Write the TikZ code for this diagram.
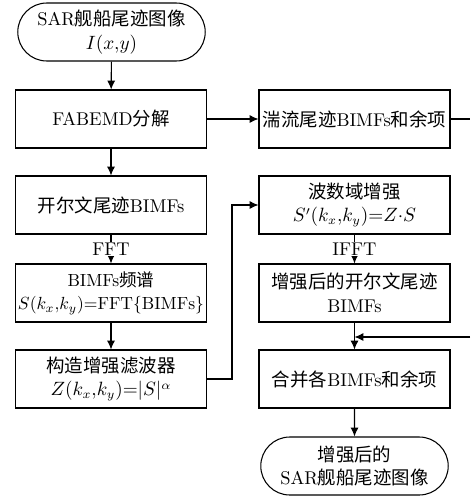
\documentclass[tikz,border=0pt]{standalone}
\usepackage{amsmath}
\usepackage{fontspec}
\newfontfamily\cjk{Noto Sans CJK SC}
\newcommand{\zh}[1]{{\cjk #1}}
\usetikzlibrary{arrows.meta,calc,positioning,shapes.misc}

\begin{document}
\begin{tikzpicture}
[
	              x = 0.02cm,
	              y = -0.02cm,
	     line width = 0.6pt,
	             >= {Latex[length=5pt,width=4.5pt]},
	     box/.style = { draw=black, rectangle, minimum width=3.82cm, minimum height=1.16cm, align=center, inner sep=1pt, font=\fontsize{10.5}{13.5}\selectfont },
	    term/.style = { box, rounded rectangle },
	fftlabel/.style = { fill=white, inner sep=0.5pt, font=\fontsize{10.5}{12}\selectfont }
]
    \useasboundingbox (0,0) rectangle (470,497);

    \node (SarImage)     at (111.5, 32) [term] {SAR\zh{舰船尾迹图像}\\$I(x{,}y)$};
    \node (Fabemd)       at (111,  119) [box]  {FABEMD\zh{分解}};
    \node (TurbBimfs)    at (354.5,119) [box]  {\zh{湍流尾迹}BIMFs\zh{和余项}};
    \coordinate (TurbOut) at (470,119);

    \node (KelvinBimfs)  at (111,  205) [box]  {\zh{开尔文尾迹}BIMFs};
    \node (BimfsSpec)    at (111,  293) [box, inner xsep=0pt, font=\fontsize{10}{13.5}\selectfont] {BIMFs\zh{频谱}\\$S(k_x{,}k_y){=}\mathrm{FFT}\{\mathrm{BIMFs}\}$};
    \node (Filter)       at (111,  379) [box]  {\zh{构造增强滤波器}\\$Z(k_x{,}k_y){=}|S|^{\alpha}$};
    \coordinate (C1) at (232,379);
    \coordinate (C2) at (232,205);

    \node (WaveEnh)      at (354.5,205) [box]  {\zh{波数域增强}\\$S'(k_x{,}k_y){=}Z{\cdot}S$};
    \node (EnhBimfs)     at (354.5,293) [box]  {\zh{增强后的开尔文尾迹}\\BIMFs};
    \coordinate (TurbIn)  at (470,  337);
    \coordinate (MergeIn) at (354.5,337);
    \node (Merge)        at (354.5,379) [box]  {\zh{合并各}BIMFs\zh{和余项}};
    \node (Result)       at (354.5,466) [term] {\zh{增强后的}\\SAR\zh{舰船尾迹图像}};

    \draw[->] (SarImage) -- (Fabemd);
    \draw[->] (Fabemd) -- (TurbBimfs);
    \draw (TurbBimfs) -- (TurbOut);
    \draw[->] (Fabemd) -- (KelvinBimfs);
    \draw[->] (KelvinBimfs) -- node[fftlabel] {FFT} (BimfsSpec);
    \draw[->] (BimfsSpec) -- (Filter);
    \draw[->] (Filter) -- (C1) -- (C2) -- (WaveEnh);
    \draw[->] (WaveEnh) -- node[fftlabel] {IFFT} (EnhBimfs);
    \draw[->] (EnhBimfs) -- (Merge);
    \draw[->] (TurbIn) -- (MergeIn);
    \draw[->] (Merge) -- (Result);

\end{tikzpicture}
\end{document}
